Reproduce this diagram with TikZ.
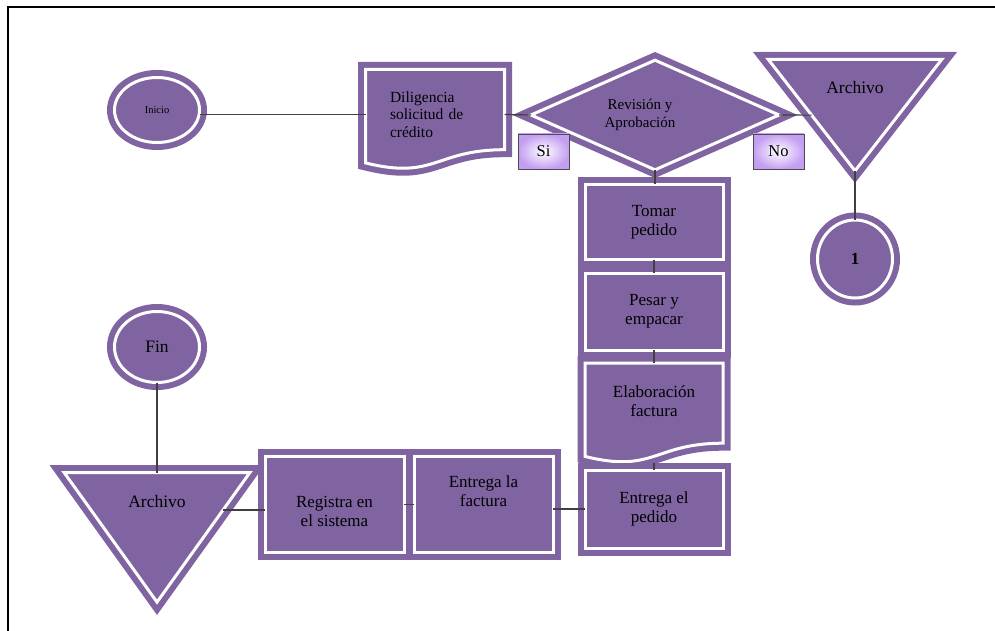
\documentclass[tikz,border=0pt]{standalone}
\usepackage{fontspec}
\setmainfont{Liberation Serif}
\usetikzlibrary{shapes.geometric,calc}

\definecolor{fpurple}{HTML}{8064A2}
\definecolor{lav}{RGB}{196,158,242}
\definecolor{wirecol}{HTML}{404040}

\begin{document}
\begin{tikzpicture}[x=1pt,y=-1pt,
  shapeline/.style={draw=fpurple, fill=fpurple, line width=6pt, double=white, double distance=3pt},
  procbox/.style={shapeline, rectangle, inner sep=0pt, outer sep=0pt, align=center,
                  font=\fontsize{17}{19}\selectfont},
  termbox/.style={shapeline, ellipse, inner sep=0pt, outer sep=0pt, align=center,
                  font=\fontsize{17.5}{19}\selectfont},
  anchorbox/.style={rectangle, inner sep=0pt, outer sep=0pt},
  txt/.style={inner sep=0pt, align=center, font=\fontsize{17}{19}\selectfont},
  wire/.style={draw=wirecol, line width=1.2pt},
  tag/.style={draw=black!70, line width=0.8pt, inner color=white, outer color=lav,
              minimum width=51pt, minimum height=35pt, inner sep=0pt,
              font=\fontsize{16.5}{19}\selectfont}
]
\useasboundingbox (0,0) rectangle (995,631);

% page frame
\draw[line width=2.2pt] (8.3,631) -- (8.3,6.7) -- (995,6.7);

% start
\node[termbox, minimum width=85pt, minimum height=65pt,
      font=\fontsize{10.5}{12}\selectfont] (inicio) at (157,110) {Inicio};

% credit application (document)
\path[shapeline] (365.5,69.5) -- (504.5,69.5) -- (504.5,149.7)
  .. controls (435,149.7) and (435,180.25) .. (365.5,162.9) -- cycle;
\node[anchorbox, minimum width=139pt, minimum height=90pt, text width=90pt, align=left,
      font=\fontsize{15.5}{17.5}\selectfont] (dil) at (435,114.5)
      {Diligencia\\solicitud de\\crédito};

% decision
\node[shapeline, diamond, shape aspect=2.26, minimum width=248pt, minimum height=109.6pt,
      inner sep=0pt, outer sep=0pt, font=\fontsize{15}{18}\selectfont] (rev) at (655,115)
      {\begin{tabular}{@{}c@{}}Revisión y\\Aprobación\end{tabular}\hspace*{30pt}};

% archive (top)
\node[anchorbox, minimum width=173.4pt, minimum height=111.3pt] (arch1) at (855,115.15) {};
\path[shapeline] (arch1.north west) -- (arch1.north east) -- (arch1.south) -- cycle;
\node[txt, font=\fontsize{17.5}{19}\selectfont] (arch1txt) at (855,88) {Archivo};

% connector 1
\node[termbox, minimum width=75pt, minimum height=78pt,
      font=\bfseries\fontsize{17}{19}\selectfont] (one) at (855,259) {1};

% process column
\node[procbox, minimum width=138pt, minimum height=75pt] (tomar) at (654,222) {Tomar\\pedido};
\node[procbox, minimum width=138pt, minimum height=77pt] (pesar) at (654,311.5) {Pesar y\\empacar};
\path[shapeline] (585,363) -- (723,363) -- (723,443.2)
  .. controls (654,443.2) and (654,473.75) .. (585,456.4) -- cycle;
\node[anchorbox, minimum width=138pt, minimum height=100pt] (elab) at (654,413) {};
\node[txt] (elabtxt) at (654,401.5) {Elaboración\\factura};
\node[procbox, minimum width=138pt, minimum height=78pt] (entrega) at (654,509) {Entrega el\\pedido};

% bottom row
\node[procbox, minimum width=139pt, minimum height=96pt,
      label={[txt, yshift=-6.5pt]center:Registra en\\el sistema}] (registra) at (334.5,504.5) {};
\node[procbox, minimum width=139pt, minimum height=96pt,
      label={[txt, yshift=13.5pt]center:Entrega la\\factura}] (factura) at (483.5,504.5) {};

% archive (bottom)
\node[anchorbox, minimum width=185.8pt, minimum height=129.6pt] (arch2) at (157,537.3) {};
\path[shapeline] (arch2.north west) -- (arch2.north east) -- (arch2.south) -- cycle;
\node[txt, font=\fontsize{17.5}{19}\selectfont] (arch2txt) at (157,502) {Archivo};

% end
\node[termbox, minimum width=85pt, minimum height=71pt] (fin) at (157,347) {Fin};

% connectors
\coordinate (arch1l) at ($(arch1.north west)!0.5!(arch1.south)$);
\coordinate (arch2r) at ($(arch2.north east)!0.29!(arch2.south)$);
\draw[wire] (inicio.east |- dil.west) -- (dil.west);
\draw[wire] (dil.east) -- (rev.west);
\draw[wire] (rev.east) -- (arch1l);
\draw[wire] (arch1.south) -- (one.north);
\draw[wire] (rev.south) -- (rev.south |- tomar.north);
\draw[wire] (tomar) -- (pesar);
\draw[wire] (pesar) -- (elab);
\draw[wire] (elab.south) -- (entrega.north);
\draw[wire] (entrega.west) -- (entrega.west -| factura.east);
\draw[wire] (factura) -- (registra);
\draw[wire] (arch2r) -- (arch2r -| registra.west);
\draw[wire] (fin) -- (arch2.north);

% answer tags
\node[tag] (si) at (543.5,151.5) {Si};
\node[tag] (no) at (778.5,151.5) {No};
\end{tikzpicture}
\end{document}
